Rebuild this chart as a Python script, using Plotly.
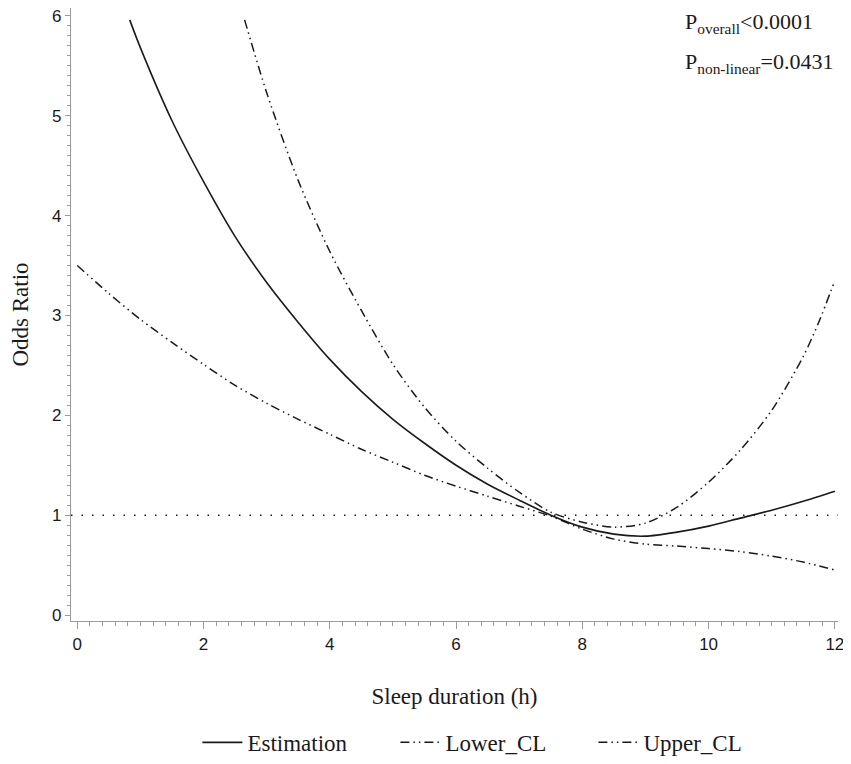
import plotly.graph_objects as go

# Sleep duration (h) and odds ratios
est_x = [0.83, 1.0, 1.5, 2.0, 2.5, 3.0, 3.5, 4.0, 4.5, 5.0, 5.5, 6.0, 6.5, 7.0,
         7.5, 8.0, 8.5, 9.0, 9.5, 10.0, 10.5, 11.0, 11.5, 12.0]
est_y = [5.96, 5.68, 4.95, 4.34, 3.79, 3.33, 2.93, 2.56, 2.24, 1.96, 1.72, 1.50,
         1.31, 1.15, 1.00, 0.88, 0.81, 0.79, 0.83, 0.89, 0.97, 1.05, 1.14, 1.24]

low_x = [0.0, 0.5, 1.0, 1.5, 2.0, 2.5, 3.0, 3.5, 4.0, 4.5, 5.0, 5.5, 6.0, 6.5,
         7.0, 7.5, 8.0, 8.5, 9.0, 9.5, 10.0, 10.5, 11.0, 11.5, 12.0]
low_y = [3.50, 3.22, 2.96, 2.73, 2.51, 2.30, 2.12, 1.96, 1.81, 1.66, 1.53, 1.40,
         1.29, 1.19, 1.09, 0.99, 0.86, 0.76, 0.71, 0.69, 0.665, 0.635, 0.59, 0.53, 0.45]

up_x = [2.65, 3.0, 3.5, 4.0, 4.5, 5.0, 5.5, 6.0, 6.5, 7.0, 7.5, 8.0, 8.5, 9.0,
        9.5, 10.0, 10.5, 11.0, 11.5, 11.75, 12.0]
up_y = [5.96, 5.23, 4.35, 3.64, 3.05, 2.51, 2.08, 1.74, 1.47, 1.23, 1.03, 0.93,
        0.88, 0.92, 1.08, 1.33, 1.65, 2.05, 2.59, 2.94, 3.35]

x_ticks = [0, 2, 4, 6, 8, 10, 12]
y_ticks = [0, 1, 2, 3, 4, 5, 6]

serif = "Liberation Serif, Times New Roman, serif"
sans = "Liberation Sans, Arial, sans-serif"
ink = "#1a1a1a"
axis_grey = "#9a9a9a"
dashdotdot = "9px,4px,1.5px,4px,1.5px,4px"

fig = go.Figure()

fig.add_trace(go.Scatter(x=est_x, y=est_y, mode="lines", name="Estimation",
                         line=dict(color=ink, width=1.6, shape="spline", smoothing=0.8)))
fig.add_trace(go.Scatter(x=low_x, y=low_y, mode="lines", name="Lower_CL",
                         line=dict(color=ink, width=1.5, dash=dashdotdot,
                                   shape="spline", smoothing=0.8)))
fig.add_trace(go.Scatter(x=up_x, y=up_y, mode="lines", name="Upper_CL",
                         line=dict(color=ink, width=1.5, dash=dashdotdot,
                                   shape="spline", smoothing=0.8)))

# dotted reference line at OR = 1
fig.add_shape(type="line", xref="paper", x0=0, x1=1, yref="y", y0=1, y1=1,
              line=dict(color=ink, width=1.5, dash="1.5px,9px"))

# p-values, top right
fig.add_annotation(xref="paper", yref="paper", x=0.798, y=0.976, xanchor="left", yanchor="middle",
                   showarrow=False, text="P<sub>overall</sub><0.0001",
                   font=dict(family=serif, size=22, color=ink))
fig.add_annotation(xref="paper", yref="paper", x=0.798, y=0.911, xanchor="left", yanchor="middle",
                   showarrow=False, text="P<sub>non-linear</sub>=0.0431",
                   font=dict(family=serif, size=22, color=ink))

fig.update_xaxes(range=[-0.1, 12.05], tickvals=x_ticks, showgrid=False, zeroline=False,
                 automargin=False, ticklabeloverflow="allow",
                 showline=True, linecolor=axis_grey, linewidth=1.2,
                 ticks="outside", ticklen=7, tickcolor=axis_grey, tickwidth=1.2,
                 minor=dict(dtick=0.2, ticks="outside", ticklen=4, tickcolor=axis_grey, tickwidth=1),
                 tickfont=dict(family=sans, size=17, color=ink),
                 title=dict(text="Sleep duration (h)", font=dict(family=serif, size=23, color=ink),
                            standoff=35))
fig.update_yaxes(range=[-0.06, 6.079], tickvals=y_ticks, showgrid=False, zeroline=False,
                 automargin=False, ticklabeloverflow="allow",
                 showline=True, linecolor=axis_grey, linewidth=1.2,
                 ticks="outside", ticklen=5, tickcolor=axis_grey, tickwidth=1.2,
                 minor=dict(dtick=0.1, ticks="outside", ticklen=3, tickcolor=axis_grey, tickwidth=1),
                 tickfont=dict(family=sans, size=17, color=ink),
                 title=dict(text="Odds Ratio", font=dict(family=serif, size=23, color=ink),
                            standoff=21))

# the page body adds an 8px offset, so the figure is 8px smaller than the window
fig.update_layout(
    width=843, height=756,
    margin=dict(l=63, r=13, t=0, b=132),
    plot_bgcolor="white", paper_bgcolor="white",
    showlegend=True,
    legend=dict(orientation="h", x=0.552, xanchor="center", y=-0.163, yanchor="top",
                font=dict(family=serif, size=23, color=ink),
                entrywidth=143, itemwidth=40, bgcolor="rgba(0,0,0,0)"),
)

fig.write_html("out.html")
